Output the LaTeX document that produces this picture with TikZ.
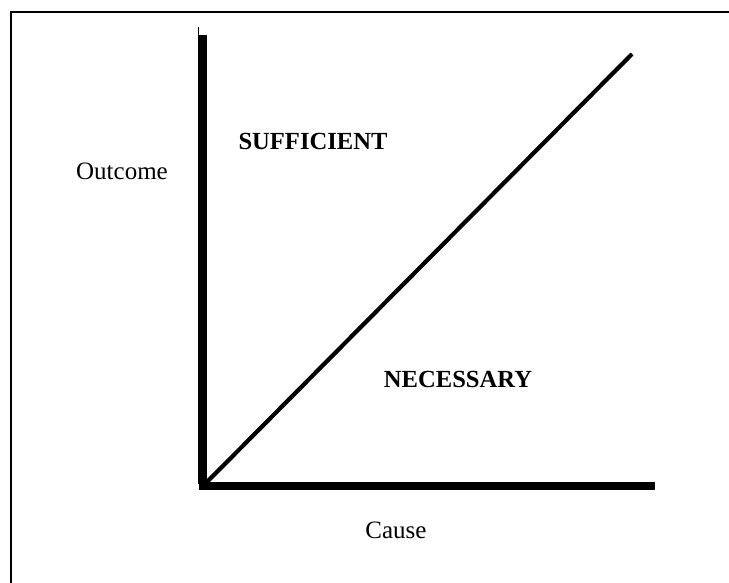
\documentclass[tikz,border=0pt]{standalone}
\usepackage{fontspec}
\setmainfont{Liberation Serif}
\usetikzlibrary{positioning}
\tikzset{
  frame/.style={draw=black, line width=1pt},
  axis/.style={draw=black, line width=3.8pt},
  diag/.style={draw=black, line width=2.1pt},
  lbl/.style={font=\fontsize{12.5}{15}\selectfont, inner sep=0pt},
  region/.style={font=\fontsize{12.3}{15}\selectfont\bfseries, inner sep=0pt}
}
\begin{document}
\begin{tikzpicture}[x=0.5pt,y=-0.5pt]
  \useasboundingbox (0,0) rectangle (729,583);
  % frame
  \coordinate (fr) at (729,12);
  \coordinate (fc) at (11,12);
  \coordinate (fb) at (11,583);
  \draw[frame] (fr) -- (fc) -- (fb);
  % axes
  \coordinate (origin) at (203,486);
  \coordinate (ytop) at (203,35);
  \coordinate (xend) at (655,486);
  \coordinate (ttop) at (198,27);
  \coordinate (tbot) at (198,484);
  \coordinate (dtop) at (632,54);
  \draw[line width=0.5pt] (ttop) -- (tbot);
  \draw[axis] (ytop) -- (origin) -- (xend);
  \draw[diag] (origin) -- (dtop);
  % labels
  \node[lbl] (outcome) at (122,171) {Outcome};
  \node[lbl] (cause) at (396,530) {Cause};
  \node[region] (suff) at (313,141) {SUFFICIENT};
  \node[region] (nec) at (458,379) {NECESSARY};
\end{tikzpicture}
\end{document}
